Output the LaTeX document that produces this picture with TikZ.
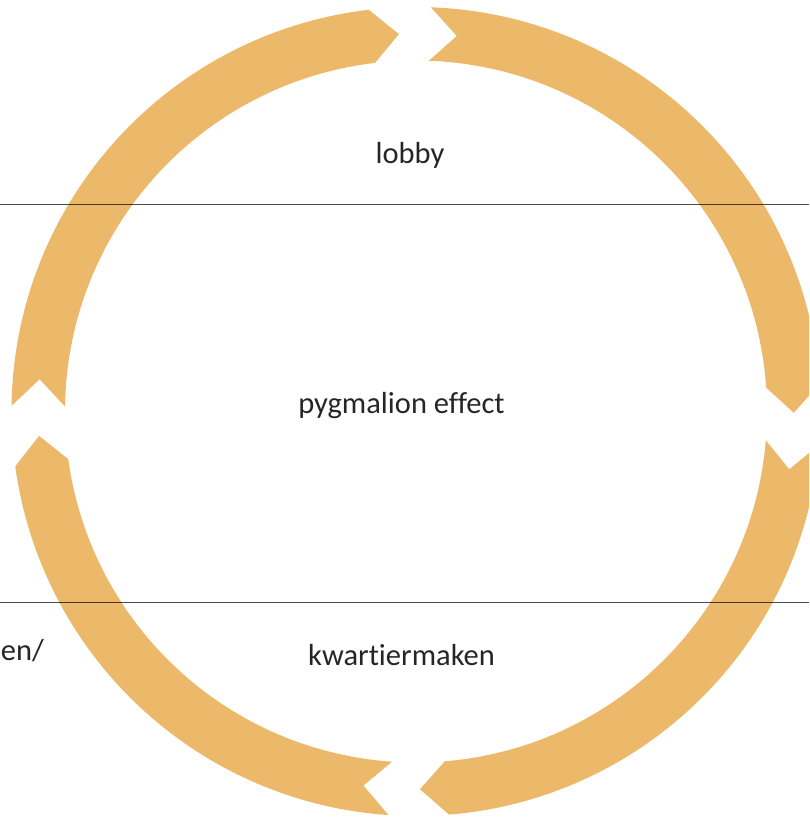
\documentclass[tikz,border=0pt]{standalone}
\usepackage{fontspec}
\setmainfont{Carlito}[Ligatures={NoCommon}]
\definecolor{arrowgold}{RGB}{236,185,106}
\definecolor{txtgray}{RGB}{38,38,38}
\begin{document}
\begin{tikzpicture}[x=1pt,y=1pt,
  goldfill/.style={fill=arrowgold},
  sepline/.style={draw=black,draw opacity=0.7,line width=1pt},
  lbl/.style={text=txtgray,font=\fontsize{30.5}{36}\selectfont,inner sep=0pt}]
\useasboundingbox (0,0) rectangle (809,817);
\clip (0,0) rectangle (809,817);
\def\Ro{404.5}\def\Ri{351}\def\Rm{377.75}\def\dd{4.1}
\def\goldseg#1#2{%
  \fill[goldfill] (#1:\Ro) arc[start angle=#1, end angle=#2, radius=\Ro]
    -- ({#2-\dd}:\Rm) -- (#2:\Ri)
    arc[start angle=#2, end angle=#1, radius=\Ri]
    -- ({#1-\dd}:\Rm) -- cycle;}
\begin{scope}[shift={(416,405.5)}]
  \goldseg{87.9}{3.9}
  \goldseg{-4.7}{-85.3}
  \goldseg{-93.9}{-172.2}
  \goldseg{179.2}{96.7}
\end{scope}
\coordinate (l1a) at (0,612);
\coordinate (l1b) at (809,612);
\coordinate (l2a) at (0,214);
\coordinate (l2b) at (809,214);
\draw[sepline] (l1a) -- (l1b);
\draw[sepline] (l2a) -- (l2b);
\node[lbl,anchor=base] (lobby) at (410,653.7) {lobby};
\node[lbl,anchor=base] (pyg) at (401.5,403.7) {pygmalion effect};
\node[lbl,anchor=base] (kwart) at (401.5,151.3) {kwartiermaken};
\node[lbl,anchor=base east] (en) at (44,156) {en/};
\end{tikzpicture}
\end{document}
